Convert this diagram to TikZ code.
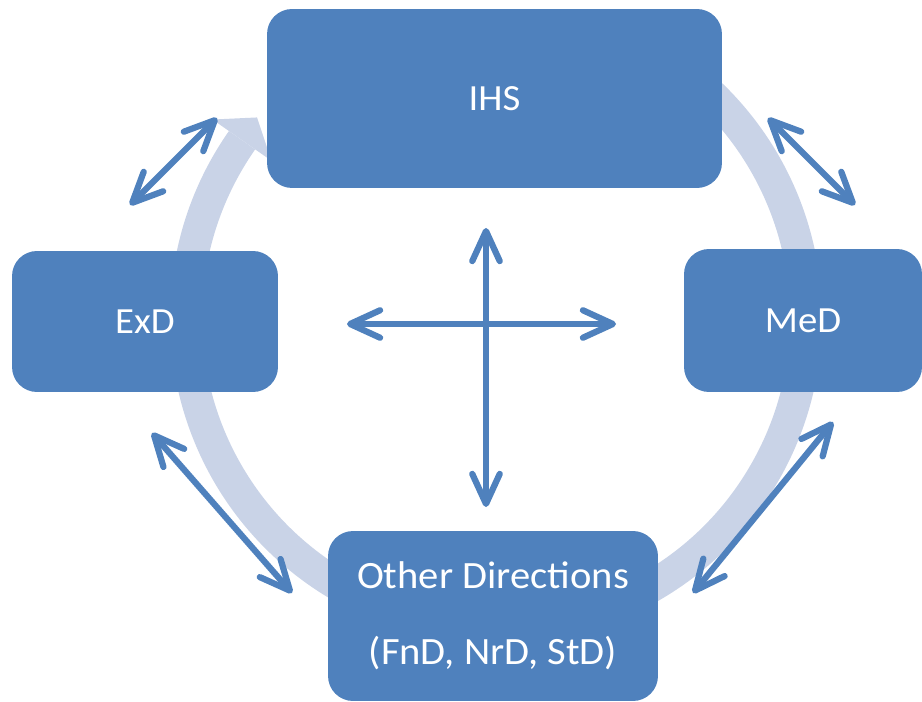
\documentclass[tikz,border=0pt]{standalone}
\usepackage{fontspec}
\setmainfont{Carlito}[FakeStretch=1.05]
\usepackage{xcolor}
\usetikzlibrary{arrows.meta}

\definecolor{boxblue}{HTML}{4F81BD}
\definecolor{ringblue}{HTML}{C9D3E7}
\tikzset{
	dirbox/.style={fill=boxblue, rounded corners=0.5cm, text=white, inner sep=0pt, align=center, font=\fontsize{21}{25}\selectfont},
	dblarrow/.style={draw=boxblue, line width=0.125cm, {Straight Barb[length=0.6cm,width=0.55cm,round]}-{Straight Barb[length=0.6cm,width=0.55cm,round]}}
}

\begin{document}
\begin{tikzpicture}[x=0.02cm, y=0.02cm]
	\useasboundingbox (0,0) rectangle (922,-702);
	
	% the light cycle arrow behind the boxes
	\begin{scope}[shift={(496,-318)}]
		\fill[ringblue] (145:326) arc[start angle=145, end angle=420, radius=326]
			-- (420:294) arc[start angle=420, end angle=145, radius=294] -- cycle;
		\fill[ringblue] (145:346) -- (140:312) -- (145:274) -- cycle;
	\end{scope}
	
	\node[dirbox, minimum width=9.1cm, minimum height=3.58cm] (ihs) at (494.5,-98.5) {IHS};
	\node[dirbox, minimum width=5.32cm, minimum height=2.82cm] (exd) at (145,-321.5) {ExD};
	\node[dirbox, minimum width=4.76cm, minimum height=2.86cm] (med) at (803,-320.5) {MeD};
	\node[dirbox, minimum width=6.6cm, minimum height=3.4cm, font=\fontsize{22}{43}\selectfont] (other) at (493,-616) {Other Directions\\(FnD, NrD, StD)};
	
	\coordinate (tl1) at (130,-205);
	\coordinate (tl2) at (217,-118);
	\coordinate (tr1) at (768,-118);
	\coordinate (tr2) at (855,-205);
	\coordinate (bl1) at (152,-433);
	\coordinate (bl2) at (292,-593);
	\coordinate (br1) at (693,-593);
	\coordinate (br2) at (833,-422);
	\coordinate (up) at (486,-228);
	\coordinate (down) at (486,-507);
	\coordinate (left) at (347,-324);
	\coordinate (right) at (616,-324);
	
	\foreach \s/\e in {tl1/tl2, tr1/tr2, bl1/bl2, br1/br2, up/down, left/right}{
		\draw[dblarrow] (\s) -- (\e);
	}
\end{tikzpicture}
\end{document}
